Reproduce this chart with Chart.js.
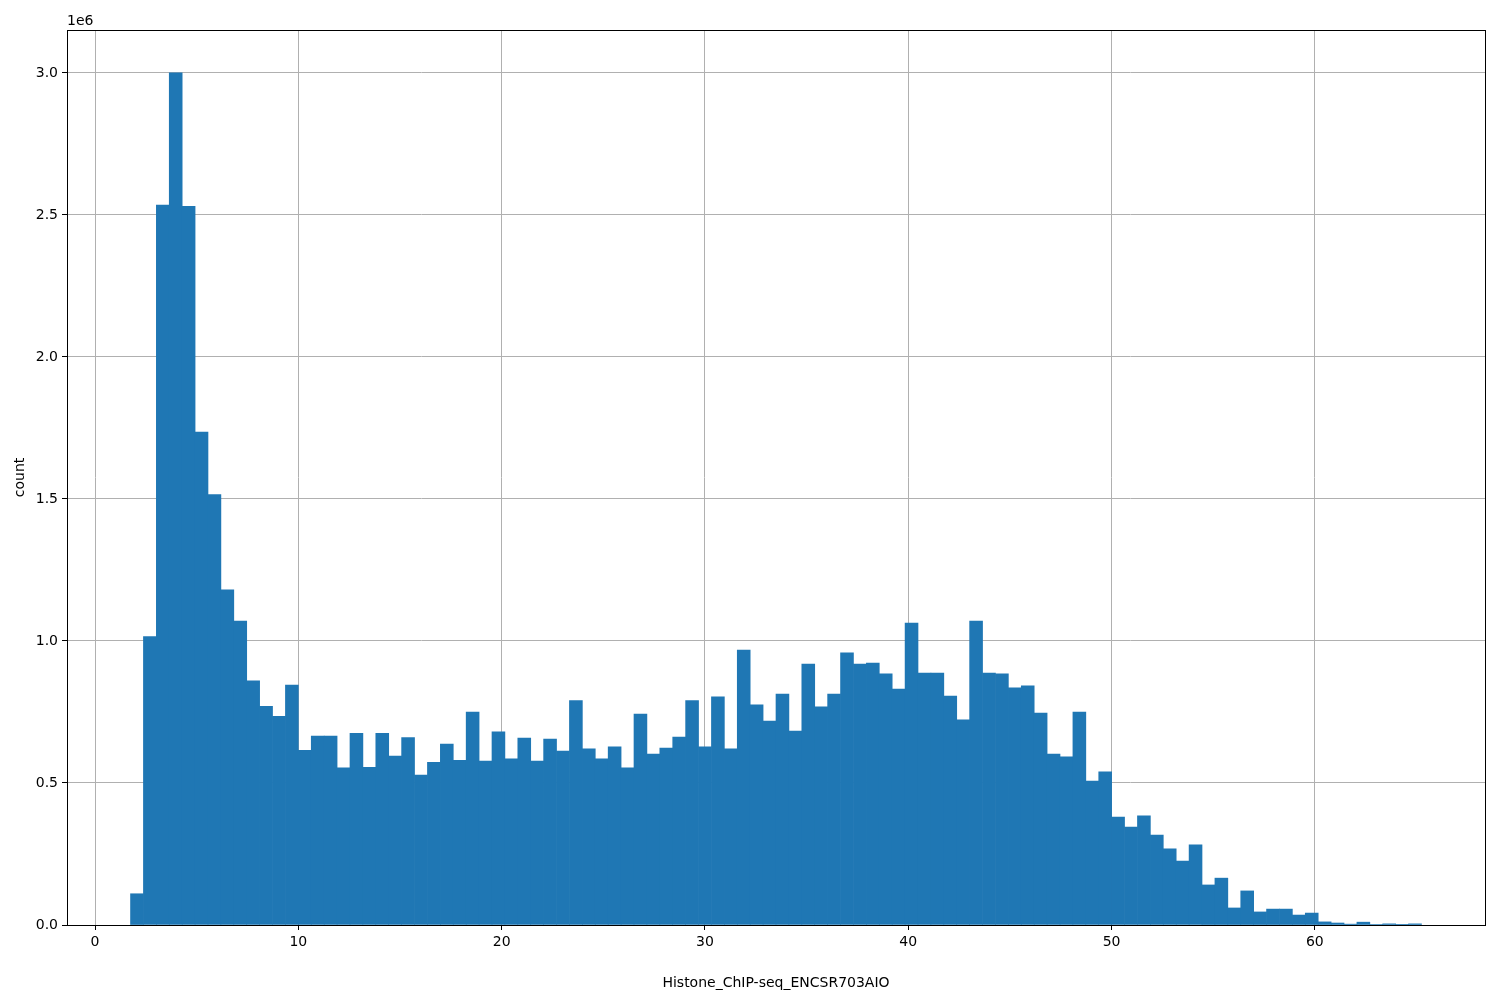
<!DOCTYPE html>
<html>
<head>
<meta charset="utf-8">
<script src="https://cdn.jsdelivr.net/npm/chart.js@4/dist/chart.umd.min.js"></script>
<style>
  html, body { margin: 0; padding: 0; background: #fff; }
  #wrap { width: 1500px; height: 1000px; }
</style>
</head>
<body>
<div id="wrap"><canvas id="hist"></canvas></div>
<script>
// histogram: 100 bins, first edge and width
const binStart = 1.745;
const binWidth = 0.635;
// counts in millions
const counts = [
  0.11, 1.015, 2.535, 3.0, 2.53, 1.735, 1.515, 1.18, 1.07, 0.86,
  0.77, 0.735, 0.845, 0.615, 0.665, 0.665, 0.553, 0.675, 0.555, 0.675,
  0.595, 0.66, 0.528, 0.573, 0.637, 0.58, 0.75, 0.577, 0.68, 0.585,
  0.658, 0.577, 0.655, 0.612, 0.79, 0.62, 0.585, 0.627, 0.553, 0.743,
  0.602, 0.623, 0.662, 0.79, 0.627, 0.803, 0.62, 0.968, 0.775, 0.718,
  0.813, 0.683, 0.919, 0.768, 0.813, 0.958, 0.919, 0.922, 0.884, 0.831,
  1.063, 0.887, 0.887, 0.806, 0.722, 1.07, 0.887, 0.884, 0.835, 0.842,
  0.746, 0.602, 0.592, 0.75, 0.507, 0.539, 0.38, 0.345, 0.384, 0.317,
  0.268, 0.225, 0.282, 0.141, 0.165, 0.06, 0.12, 0.046, 0.056, 0.056,
  0.035, 0.042, 0.011, 0.007, 0.003, 0.01, 0.002, 0.004, 0.001, 0.004
];
const xTicks = [0, 10, 20, 30, 40, 50, 60];
const yTicks = [0, 0.5e6, 1.0e6, 1.5e6, 2.0e6, 2.5e6, 3.0e6];

const points = counts.map((c, i) => ({ x: binStart + binWidth * (i + 0.5), y: c * 1e6 }));
const font = { family: 'DejaVu Sans', size: 14 };

const frame = {
  id: 'frame',
  afterDraw(chart) {
    const { ctx, chartArea: a } = chart;
    ctx.save();
    ctx.strokeStyle = '#000';
    ctx.lineWidth = 1;
    ctx.strokeRect(a.left + 0.5, a.top + 0.5, a.width, a.height);
    ctx.fillStyle = '#000';
    ctx.font = '14px "DejaVu Sans"';
    ctx.textBaseline = 'bottom';
    ctx.fillText('1e6', a.left, a.top - 2);
    ctx.restore();
  }
};

new Chart(document.getElementById('hist'), {
  type: 'bar',
  data: {
    datasets: [{
      data: points,
      backgroundColor: '#1f77b4',
      borderWidth: 0,
      barPercentage: 1,
      categoryPercentage: 1
    }]
  },
  options: {
    responsive: true,
    maintainAspectRatio: false,
    animation: false,
    layout: { padding: { top: 30, right: 15, left: 8, bottom: 0 } },
    plugins: { legend: { display: false }, tooltip: { enabled: false } },
    scales: {
      x: {
        type: 'linear',
        offset: false,
        min: -1.38,
        max: 68.37,
        afterBuildTicks: s => { s.ticks = xTicks.map(v => ({ value: v })); },
        afterFit: s => { s.height = 75; },
        grid: { offset: false, color: '#b0b0b0', drawTicks: true, tickLength: 5, tickColor: '#000' },
        border: { display: false },
        ticks: { color: '#000', font, maxRotation: 0, padding: 4, callback: v => String(v) },
        title: { display: true, text: 'Histone_ChIP-seq_ENCSR703AIO', color: '#000', font, padding: { top: 4, bottom: 8 } }
      },
      y: {
        min: 0,
        max: 3.151e6,
        afterBuildTicks: s => { s.ticks = yTicks.map(v => ({ value: v })); },
        afterFit: s => { s.width = 59; },
        grid: { color: '#b0b0b0', tickLength: 5, tickColor: '#000' },
        border: { display: false },
        ticks: { color: '#000', font, padding: 4, callback: v => (v / 1e6).toFixed(1) },
        title: { display: true, text: 'count', color: '#000', font, padding: { bottom: 4 } }
      }
    }
  },
  plugins: [frame]
});
</script>
</body>
</html>
